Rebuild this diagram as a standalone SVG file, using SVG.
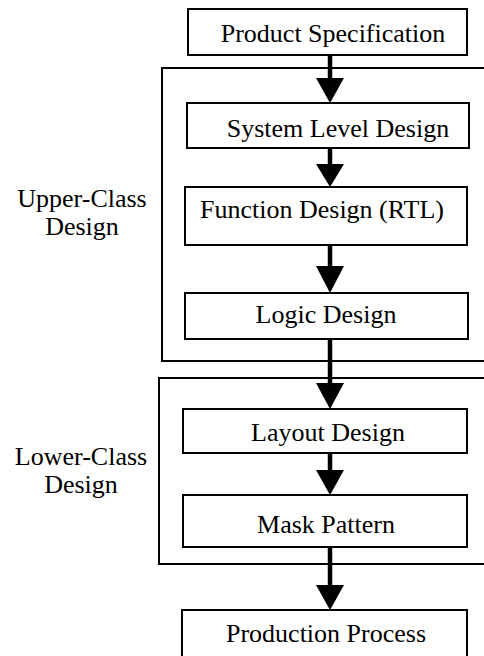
<svg xmlns="http://www.w3.org/2000/svg" width="484" height="656" viewBox="0 0 484 656">
  <defs>
    <style>
      .box { fill: #ffffff; stroke: #000000; stroke-width: 2; }
      .frame { fill: none; stroke: #000000; stroke-width: 2; }
      .label { font-family: 'Liberation Serif', 'DejaVu Serif', serif; font-size: 26px; fill: #000000; text-anchor: middle; }
      .shaft { stroke: #000000; stroke-width: 4.5; fill: none; }
      .head { fill: #000000; }
    </style>
  </defs>
  <rect width="484" height="656" fill="#ffffff"/>

  <!-- design phase frames (open on the right) -->
  <g id="upper-class-frame">
    <path class="frame" d="M490,68 H162 V361 H490"/>
    <text class="label" font-family="Liberation Serif, DejaVu Serif, serif" x="82" y="207">Upper-Class</text>
    <text class="label" font-family="Liberation Serif, DejaVu Serif, serif" x="82" y="235">Design</text>
  </g>
  <g id="lower-class-frame">
    <path class="frame" d="M490,378 H159 V564 H490"/>
    <text class="label" font-family="Liberation Serif, DejaVu Serif, serif" x="81" y="465">Lower-Class</text>
    <text class="label" font-family="Liberation Serif, DejaVu Serif, serif" x="81" y="493">Design</text>
  </g>

  <!-- connectors -->
  <g id="connectors">
    <line class="shaft" x1="330" y1="55" x2="330" y2="80"/>
    <polygon class="head" points="316,78 344,78 330,103"/>
    <line class="shaft" x1="330" y1="148" x2="330" y2="166"/>
    <polygon class="head" points="316,164 344,164 330,187"/>
    <line class="shaft" x1="330" y1="245" x2="330" y2="268"/>
    <polygon class="head" points="316,266 344,266 330,293"/>
    <line class="shaft" x1="330" y1="339" x2="330" y2="385"/>
    <polygon class="head" points="316,383 344,383 330,409"/>
    <line class="shaft" x1="330" y1="453" x2="330" y2="472"/>
    <polygon class="head" points="316,470 344,470 330,495"/>
    <line class="shaft" x1="330" y1="547" x2="330" y2="587"/>
    <polygon class="head" points="316,585 344,585 330,610"/>
  </g>

  <g id="product-specification">
    <rect class="box" x="188" y="9" width="279" height="46"/>
    <text class="label" font-family="Liberation Serif, DejaVu Serif, serif" x="333" y="42">Product Specification</text>
  </g>
  <g id="system-level-design">
    <rect class="box" x="187" y="103" width="282" height="45"/>
    <text class="label" font-family="Liberation Serif, DejaVu Serif, serif" x="338" y="137">System Level Design</text>
  </g>
  <g id="function-design">
    <rect class="box" x="185" y="187" width="282" height="58"/>
    <text class="label" font-family="Liberation Serif, DejaVu Serif, serif" x="322" y="218">Function Design (RTL)</text>
  </g>
  <g id="logic-design">
    <rect class="box" x="185" y="293" width="283" height="46"/>
    <text class="label" font-family="Liberation Serif, DejaVu Serif, serif" x="326" y="323">Logic Design</text>
  </g>
  <g id="layout-design">
    <rect class="box" x="183" y="409" width="284" height="44"/>
    <text class="label" font-family="Liberation Serif, DejaVu Serif, serif" x="328" y="441">Layout Design</text>
  </g>
  <g id="mask-pattern">
    <rect class="box" x="183" y="495" width="284" height="52"/>
    <text class="label" font-family="Liberation Serif, DejaVu Serif, serif" x="326" y="533">Mask Pattern</text>
  </g>
  <g id="production-process">
    <rect class="box" x="182" y="610" width="285" height="60"/>
    <text class="label" font-family="Liberation Serif, DejaVu Serif, serif" x="326" y="642">Production Process</text>
  </g>
</svg>
